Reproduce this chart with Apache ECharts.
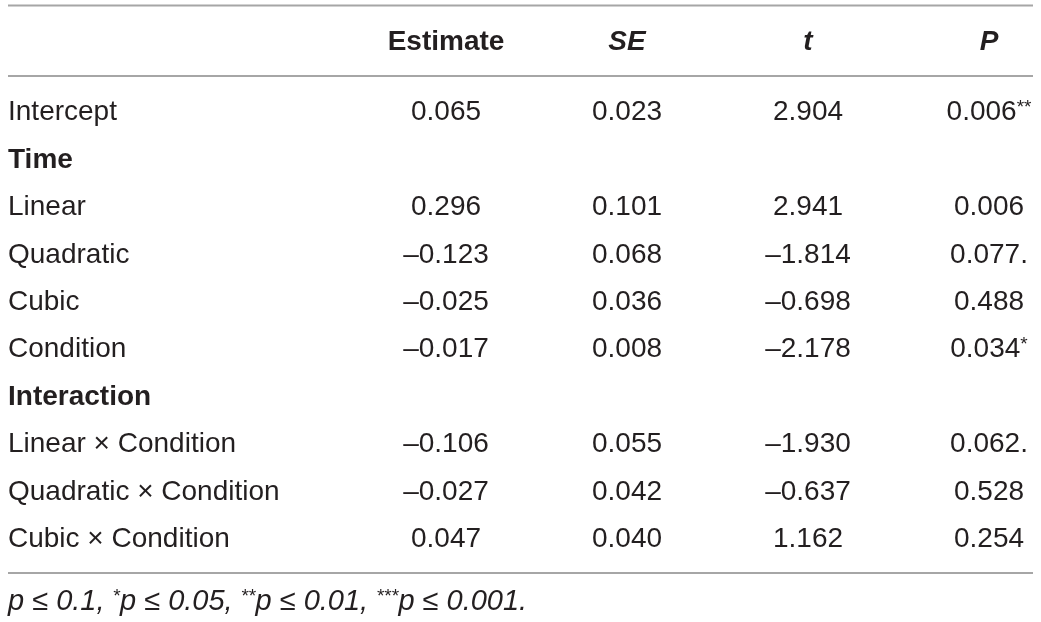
<!DOCTYPE html>
<html lang="en">
<head>
    <meta charset="UTF-8">
    <title>Model estimates</title>
    <script type="text/javascript" src="https://cdn.jsdelivr.net/npm/echarts@6/dist/echarts.min.js"></script>
    <style>
        html, body { margin: 0; padding: 0; background: #fff; }
    </style>
</head>
<body>
    <div id="main" style="width: 1041px;height:622px;"></div>
    <script type="text/javascript">

        // 表格数据
        var columns = ['Estimate', 'SE', 't', 'P'];
        var rowNames = ['Intercept', 'Time', 'Linear', 'Quadratic', 'Cubic', 'Condition',
            'Interaction', 'Linear × Condition', 'Quadratic × Condition', 'Cubic × Condition'];
        var groupRows = ['Time', 'Interaction'];
        var estimate = [0.065, null, 0.296, -0.123, -0.025, -0.017, null, -0.106, -0.027, 0.047];
        var se = [0.023, null, 0.101, 0.068, 0.036, 0.008, null, 0.055, 0.042, 0.040];
        var tValue = [2.904, null, 2.941, -1.814, -0.698, -2.178, null, -1.930, -0.637, 1.162];
        var pValue = [0.006, null, 0.006, 0.077, 0.488, 0.034, null, 0.062, 0.528, 0.254];
        var pMark = ['**', '', '', '.', '', '*', '', '.', '', ''];
        var footnote = 'p ≤ 0.1, {sup|*}p ≤ 0.05, {sup|**}p ≤ 0.01, {sup|***}p ≤ 0.001.';

        var FONT = '"Liberation Sans", Arial, sans-serif';
        var TEXT = '#231f20';
        var RULE = '#a6a6a6';

        function fmt(v) {
            return v.toFixed(3).replace('-', '\u2013');
        }

        // 组装单元格
        var cells = [];
        var numCols = [estimate, se, tValue, pValue];
        for (var r = 0; r < rowNames.length; r++) {
            for (var c = 0; c < numCols.length; c++) {
                var v = numCols[c][r];
                if (v === null) continue;
                var txt = '{n|' + fmt(v) + '}';
                if (c === 3 && pMark[r]) {
                    txt += pMark[r] === '.' ? '{n|.}' : '{sup|' + pMark[r] + '}';
                }
                cells.push([c, r, txt]);
            }
        }

        var myChart = echarts.init(document.getElementById('main'));

        var option = {
            animation: false,
            backgroundColor: '#fff',
            textStyle: { fontFamily: FONT },
            grid: { left: 446, right: 52, top: 89, bottom: 59 },
            xAxis: {
                type: 'category',
                position: 'top',
                data: columns,
                boundaryGap: false,
                axisLine: { show: false },
                axisTick: { show: false },
                splitLine: { show: false },
                axisLabel: {
                    interval: 0,
                    margin: 47,
                    verticalAlign: 'middle',
                    fontSize: 28,
                    fontWeight: 'bold',
                    fontFamily: FONT,
                    color: TEXT,
                    formatter: function (val) {
                        return val === 'Estimate' ? '{b|' + val + '}' : '{bi|' + val + '}';
                    },
                    rich: {
                        b: { fontSize: 28, fontWeight: 'bold', fontFamily: FONT, color: TEXT },
                        bi: { fontSize: 28, fontWeight: 'bold', fontStyle: 'italic', fontFamily: FONT, color: TEXT }
                    }
                }
            },
            yAxis: {
                type: 'category',
                inverse: true,
                data: rowNames,
                axisLine: { show: false },
                axisTick: { show: false },
                splitLine: { show: false },
                axisLabel: {
                    interval: 0,
                    align: 'left',
                    margin: 438,
                    fontSize: 28,
                    fontFamily: FONT,
                    color: TEXT,
                    formatter: function (val) {
                        return groupRows.indexOf(val) >= 0 ? '{g|' + val + '}' : '{n|' + val + '}';
                    },
                    rich: {
                        g: { fontSize: 28, fontWeight: 'bold', fontFamily: FONT, color: TEXT },
                        n: { fontSize: 28, fontFamily: FONT, color: TEXT }
                    }
                }
            },
            series: [{
                type: 'scatter',
                symbolSize: 0,
                itemStyle: { opacity: 1, color: TEXT },
                data: cells,
                label: {
                    show: true,
                    position: 'inside',
                    opacity: 1,
                    fontSize: 28,
                    fontFamily: FONT,
                    color: TEXT,
                    formatter: function (p) {
                        return p.value[2];
                    },
                    rich: {
                        n: { fontSize: 28, fontFamily: FONT, color: TEXT },
                        sup: { fontSize: 19, fontFamily: FONT, color: TEXT, padding: [0, 0, 10, 0] }
                    }
                },
                emphasis: { disabled: true }
            }],
            graphic: [
                { type: 'line', shape: { x1: 8, y1: 5.5, x2: 1033, y2: 5.5 }, style: { stroke: RULE, lineWidth: 2 } },
                { type: 'line', shape: { x1: 8, y1: 76, x2: 1033, y2: 76 }, style: { stroke: RULE, lineWidth: 2 } },
                { type: 'line', shape: { x1: 8, y1: 573, x2: 1033, y2: 573 }, style: { stroke: RULE, lineWidth: 2 } },
                {
                    type: 'text', left: 8, top: 587,
                    style: {
                        text: footnote,
                        font: 'italic 29px ' + FONT,
                        fill: TEXT,
                        rich: {
                            sup: { fontSize: 19, fontStyle: 'italic', fontFamily: FONT, fill: TEXT, padding: [0, 0, 10, 0] }
                        }
                    }
                }
            ]
        };

        myChart.setOption(option);

    </script>
</body>
</html>
